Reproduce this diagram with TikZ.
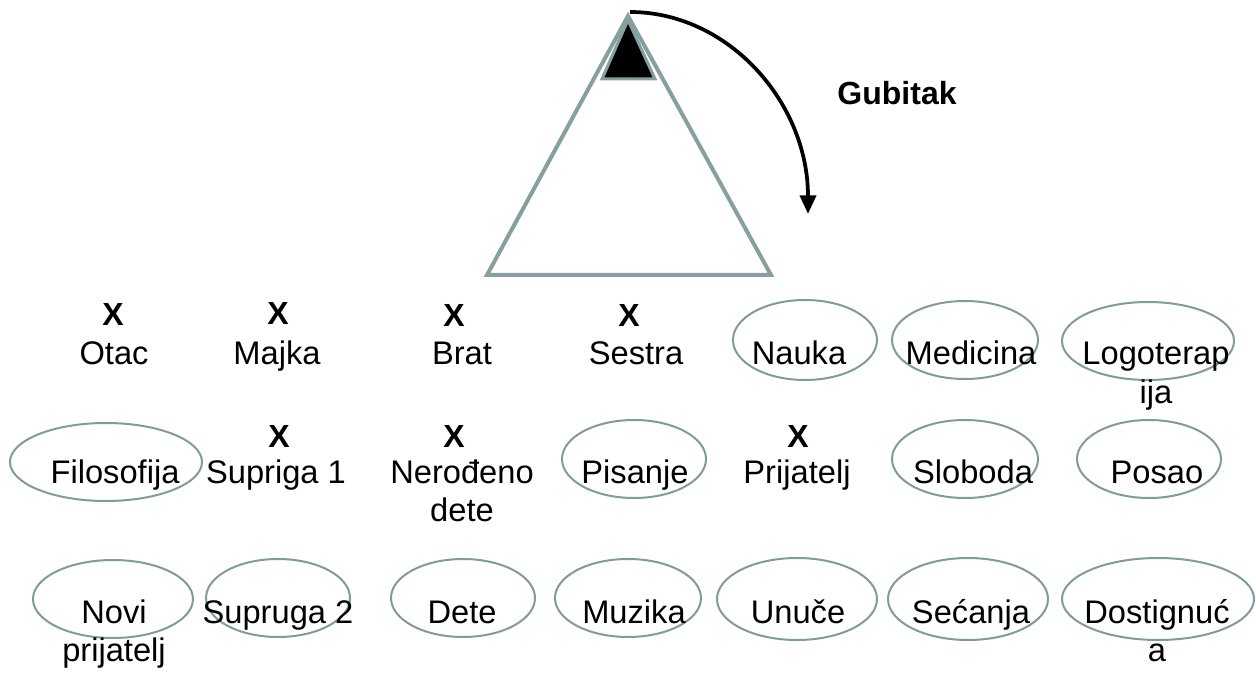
\documentclass[tikz,border=0pt]{standalone}
\usepackage{fontspec}
\setmainfont{Liberation Sans}
\usetikzlibrary{shapes.geometric,arrows.meta}
\definecolor{tri}{RGB}{134,160,160}
\definecolor{ov}{RGB}{128,155,155}
\begin{document}
\begin{tikzpicture}[x=0.75pt,y=-0.75pt,
  lbl/.style={font=\fontsize{24.5}{29}\selectfont, inner sep=0pt, anchor=base},
  xm/.style={font=\fontsize{24}{30}\selectfont\bfseries, inner sep=0pt, anchor=base},
  oval/.style 2 args={ellipse, draw=ov, line width=1.5pt, inner sep=0pt,
    minimum width=#1*1.5pt, minimum height=#2*1.5pt}]
\useasboundingbox (0,0) rectangle (1256,673);

% pyramid
\draw[line width=3pt, draw=tri, line join=miter] (628,16) -- (487,275) -- (771,275) -- cycle;
\draw[line width=2.25pt, draw=tri, fill=black, line join=miter] (628,20) -- (602,79) -- (655,79) -- cycle;

% loss arrow
\coordinate (apex) at (630,12);
\draw[line width=2.8pt, -{Triangle[length=14pt,width=12pt]}]
  (apex) arc[start angle=-90, end angle=0, x radius=178, y radius=202];
\node[xm] (gub) at (897,105) {Gubitak};

% ellipses
\node[oval={72}{40}] (oNauka) at (805,340) {};
\node[oval={73}{39}] (oMedicina) at (965,340) {};
\node[oval={86}{39}] (oLogo) at (1148,341) {};
\node[oval={96}{39}] (oFilo) at (106,462) {};
\node[oval={72}{39}] (oPisanje) at (634,459) {};
\node[oval={73}{39}] (oSloboda) at (965,459) {};
\node[oval={72}{39}] (oPosao) at (1149,459) {};
\node[oval={80}{39}] (oNovi) at (113,599) {};
\node[oval={72}{39}] (oSupruga) at (278,598) {};
\node[oval={72}{39}] (oDete) at (463,598) {};
\node[oval={73}{39}] (oMuzika) at (628,598) {};
\node[oval={80}{41}] (oUnuce) at (797,599) {};
\node[oval={80}{41}] (oSecanja) at (968,599) {};
\node[oval={96}{41}] (oDost) at (1158,599) {};

% X marks
\node[xm] (xOtac) at (113,326) {X};
\node[xm] (xMajka) at (278,325) {X};
\node[xm] (xBrat) at (454,327) {X};
\node[xm] (xSestra) at (629,327) {X};
\node[xm] (xSupriga) at (279,447) {X};
\node[xm] (xNerodjeno) at (454,447) {X};
\node[xm] (xPrijatelj) at (798,447) {X};

% row 1
\node[lbl] (tOtac) at (114,365) {Otac};
\node[lbl] (tMajka) at (277,365) {Majka};
\node[lbl] (tBrat) at (462,365) {Brat};
\node[lbl] (tSestra) at (636,365) {Sestra};
\node[lbl] (tNauka) at (799,365) {Nauka};
\node[lbl] (tMedicina) at (971,365) {Medicina};
\node[lbl] (tLogo) at (1156,365) {\begin{tabular}[t]{@{}c@{}}Logoterap\\ija\end{tabular}};

% row 2
\node[lbl] (tFilo) at (115,483) {Filosofija};
\node[lbl] (tSupriga) at (276,483) {Supriga 1};
\node[lbl] (tNerodjeno) at (462,483) {\begin{tabular}[t]{@{}c@{}}Nerođeno\\dete\end{tabular}};
\node[lbl] (tPisanje) at (635,483) {Pisanje};
\node[lbl] (tPrijatelj) at (797,483) {Prijatelj};
\node[lbl] (tSloboda) at (973,483) {Sloboda};
\node[lbl] (tPosao) at (1157,483) {Posao};

% row 3
\node[lbl] (tNovi) at (114,623) {\begin{tabular}[t]{@{}c@{}}Novi\\prijatelj\end{tabular}};
\node[lbl] (tSupruga) at (278,623) {Supruga 2};
\node[lbl] (tDete) at (462,623) {Dete};
\node[lbl] (tMuzika) at (634,623) {Muzika};
\node[lbl] (tUnuce) at (798,623) {Unuče};
\node[lbl] (tSecanja) at (971,623) {Sećanja};
\node[lbl] (tDost) at (1157,623) {\begin{tabular}[t]{@{}c@{}}Dostignuć\\a\end{tabular}};
\end{tikzpicture}
\end{document}
